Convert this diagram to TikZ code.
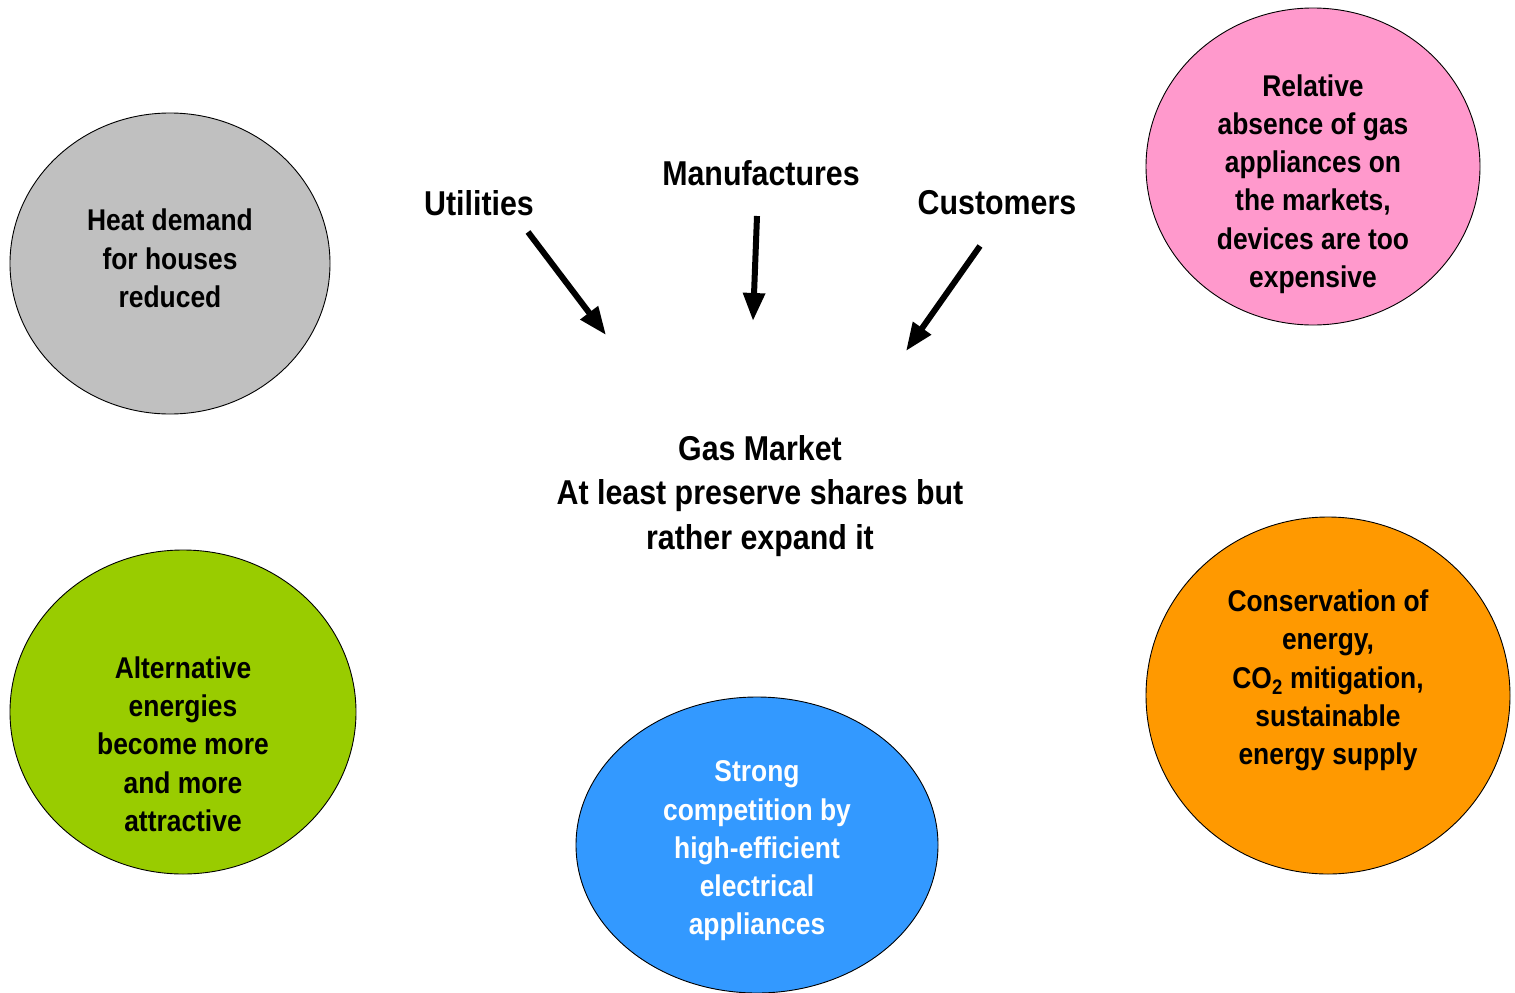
\documentclass[tikz,border=0pt]{standalone}
\usepackage{fontspec}
\setmainfont[FakeStretch=0.88]{Liberation Sans}
\usetikzlibrary{shapes.geometric,arrows.meta}
\definecolor{cgray}{HTML}{C0C0C0}
\definecolor{cpink}{HTML}{FF99CC}
\definecolor{cgreen}{HTML}{99CC00}
\definecolor{cblue}{HTML}{3399FF}
\definecolor{corange}{HTML}{FF9900}
\tikzset{
  blob/.style={ellipse, draw=black, line width=0.9pt, inner sep=0pt},
  blobtext/.style={align=center, font=\fontsize{30}{38.3}\selectfont\bfseries, inner sep=0pt},
  bigtext/.style={align=center, font=\fontsize{34.5}{44.5}\selectfont\bfseries, inner sep=0pt},
  arr/.style={line width=6pt, -{Triangle[length=28pt,width=21pt]}}
}
\begin{document}
\begin{tikzpicture}[x=1pt,y=-1pt]
\useasboundingbox (0,0) rectangle (1515,993);
\fill[white] (0,0) rectangle (1515,993);
\begin{scope}
\clip (0,0) rectangle (1515,993);
\node[blob, fill=cgray, minimum width=320pt, minimum height=301pt] (heat) at (170,263.5) {};
\node[blob, fill=cpink, minimum width=334pt, minimum height=317pt] (rel) at (1313,166.5) {};
\node[blob, fill=cgreen, minimum width=346pt, minimum height=324pt] (alt) at (183,712) {};
\node[blob, fill=cblue, minimum width=362pt, minimum height=296pt] (strong) at (757,845) {};
\node[blob, fill=corange, minimum width=364pt, minimum height=357pt] (cons) at (1328,695.5) {};
\end{scope}
\node[blobtext] (heatT) at (170,258.5) {Heat demand\\for houses\\reduced};
\node[blobtext] (relT) at (1313,184) {Relative\\absence of gas\\appliances on\\the markets,\\devices are too\\expensive};
\node[blobtext] (altT) at (183,744) {Alternative\\energies\\become more\\and more\\attractive};
\node[blobtext, text=white] (strongT) at (757,851) {Strong\\competition by\\high-efficient\\electrical\\appliances};
\node[blobtext] (consT) at (1328,680.5) {Conservation of\\energy,\\CO\textsubscript{2} mitigation,\\sustainable\\energy supply};
\node[bigtext] (gas) at (760,496) {Gas Market\\At least preserve shares but\\rather expand it};
\node[bigtext] (util) at (479,203) {Utilities};
\node[bigtext] (manu) at (761,173) {Manufactures};
\node[bigtext] (cust) at (997,203) {Customers};
\coordinate (u1) at (528,232);
\coordinate (u2) at (606,335);
\coordinate (m1) at (757,216);
\coordinate (m2) at (753,321);
\coordinate (c1) at (980,246);
\coordinate (c2) at (906,351);
\draw[arr] (u1) -- (u2);
\draw[arr] (m1) -- (m2);
\draw[arr] (c1) -- (c2);
\end{tikzpicture}
\end{document}
